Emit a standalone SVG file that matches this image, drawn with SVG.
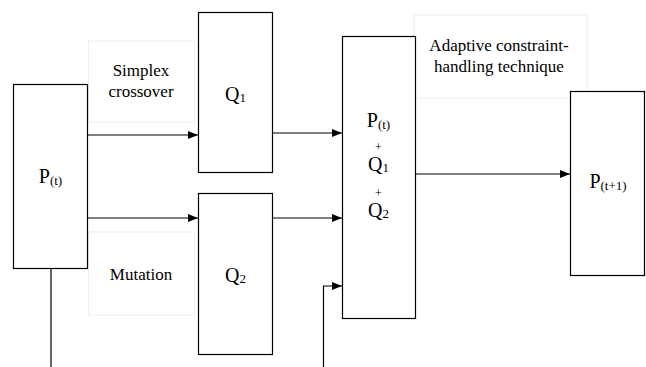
<svg xmlns="http://www.w3.org/2000/svg" width="646" height="367" viewBox="0 0 646 367">
<style>
.box{fill:#fff;stroke:#000;stroke-width:1.2}
.lbl{fill:#fff;stroke:#eeeeea;stroke-width:1}
.t{font-family:'Liberation Serif',serif;font-size:17px;fill:#000;text-anchor:middle}
.big{font-size:20px}
.sub{font-size:13px}
.plus{font-size:12px}
.edge{stroke:#000;stroke-width:1.2;fill:none}
</style>
<defs>
<marker id="ah" markerWidth="10" markerHeight="8" refX="10" refY="4" orient="auto" markerUnits="userSpaceOnUse">
<path d="M0,0 L10,4 L0,8 Z" fill="#000"/>
</marker>
</defs>
<g font-family="Liberation Serif, serif">
<g id="simplex">
<rect class="lbl" x="88.5" y="41" width="106" height="81"/>
<text class="t" x="141" y="76">Simplex</text>
<text class="t" x="141" y="97">crossover</text>
</g>
<g id="mutation">
<rect class="lbl" x="88.5" y="232" width="106" height="83"/>
<text class="t" x="141" y="280">Mutation</text>
</g>
<g id="adaptive">
<rect class="lbl" x="414" y="15" width="173" height="83"/>
<text class="t" x="499" y="51">Adaptive constraint-</text>
<text class="t" x="499" y="72">handling technique</text>
</g>
<g id="pt">
<rect class="box" x="13.5" y="84.5" width="74" height="184"/>
<text class="t big" x="50.5" y="182.5">P<tspan class="sub" dy="2">(t)</tspan></text>
</g>
<g id="q1">
<rect class="box" x="198.5" y="12.5" width="74" height="160"/>
<text class="t big" x="235.5" y="100.5">Q<tspan class="sub" dy="1">1</tspan></text>
</g>
<g id="q2">
<rect class="box" x="198.5" y="193.5" width="74" height="161"/>
<text class="t big" x="235.5" y="281.5">Q<tspan class="sub" dy="1">2</tspan></text>
</g>
<g id="merge">
<rect class="box" x="342.5" y="36.5" width="73" height="282"/>
<text class="t big" x="378.5" y="126.5">P<tspan class="sub" dy="2">(t)</tspan></text>
<text class="t plus" x="378.5" y="150.5">+</text>
<text class="t big" x="378.5" y="171">Q<tspan class="sub" dy="1">1</tspan></text>
<text class="t plus" x="378.5" y="197">+</text>
<text class="t big" x="378.5" y="216.5">Q<tspan class="sub" dy="1">2</tspan></text>
</g>
<g id="pt1">
<rect class="box" x="570.5" y="91.5" width="74" height="184"/>
<text class="t big" x="608" y="187.5">P<tspan class="sub" dy="2">(t+1)</tspan></text>
</g>
</g>
<g id="connectors">
<path class="edge" d="M87.5,135 H198" marker-end="url(#ah)"/>
<path class="edge" d="M87.5,218 H198" marker-end="url(#ah)"/>
<path class="edge" d="M272.5,133 H342" marker-end="url(#ah)"/>
<path class="edge" d="M272.5,218 H342" marker-end="url(#ah)"/>
<path class="edge" d="M323.5,367 V286 H342" marker-end="url(#ah)"/>
<path class="edge" d="M415.5,174 H570" marker-end="url(#ah)"/>
<path class="edge" d="M51,268.5 V367"/>
</g>
</svg>
